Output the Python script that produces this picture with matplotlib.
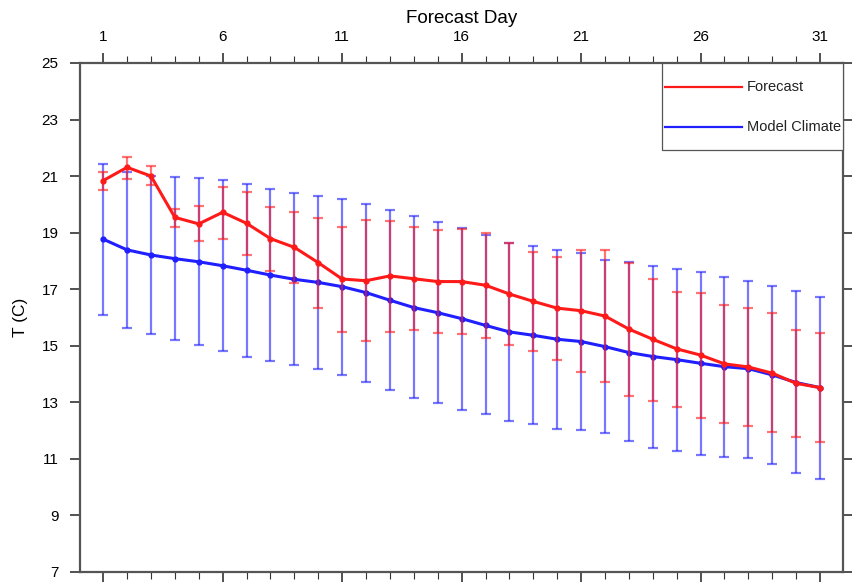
"""
Forecast vs model climate temperature, with spread bars
"""
import numpy as np
from matplotlib import pyplot as plt
from matplotlib.patches import Rectangle
from matplotlib.ticker import MultipleLocator

# Data
days = np.arange(1, 32)

fc_mean = [20.84, 21.31, 21.00, 19.54, 19.31, 19.72, 19.33, 18.79, 18.48, 17.94,
           17.36, 17.30, 17.47, 17.37, 17.27, 17.27, 17.14, 16.83, 16.57, 16.33,
           16.24, 16.05, 15.59, 15.23, 14.89, 14.67, 14.36, 14.25, 14.03, 13.67, 13.52]
fc_high = [21.13, 21.69, 21.36, 19.84, 19.93, 20.63, 20.44, 19.90, 19.74, 19.52,
           19.21, 19.45, 19.42, 19.21, 19.08, 19.13, 18.99, 18.64, 18.32, 18.15,
           18.39, 18.39, 17.94, 17.37, 16.90, 16.88, 16.45, 16.33, 16.16, 15.56, 15.46]
fc_low = [20.51, 20.90, 20.67, 19.21, 18.70, 18.79, 18.21, 17.66, 17.23, 16.34,
          15.49, 15.16, 15.49, 15.56, 15.44, 15.43, 15.28, 15.04, 14.81, 14.51,
          14.06, 13.71, 13.21, 13.05, 12.85, 12.44, 12.28, 12.15, 11.94, 11.76, 11.59]

clim_mean = [18.77, 18.39, 18.21, 18.08, 17.97, 17.83, 17.67, 17.50, 17.35, 17.24,
             17.09, 16.88, 16.61, 16.35, 16.17, 15.96, 15.72, 15.49, 15.37, 15.23,
             15.15, 14.97, 14.76, 14.62, 14.51, 14.38, 14.26, 14.19, 13.97, 13.70, 13.52]
clim_high = [21.44, 21.13, 21.00, 20.98, 20.93, 20.85, 20.71, 20.54, 20.39, 20.31,
             20.20, 20.01, 19.79, 19.59, 19.38, 19.17, 18.93, 18.65, 18.53, 18.39,
             18.29, 18.04, 17.95, 17.82, 17.73, 17.62, 17.43, 17.29, 17.13, 16.93, 16.74]
clim_low = [16.08, 15.62, 15.41, 15.21, 15.03, 14.83, 14.62, 14.46, 14.31, 14.18,
            13.98, 13.72, 13.43, 13.14, 12.97, 12.73, 12.58, 12.34, 12.25, 12.06,
            12.01, 11.92, 11.64, 11.40, 11.27, 11.12, 11.07, 11.03, 10.81, 10.50, 10.30]

major_days = [1, 6, 11, 16, 21, 26, 31]
y_ticks = np.arange(7, 26, 2)
legend_labels = ['Forecast', 'Model Climate']


def main():
    plt.rcParams['font.family'] = ['Liberation Sans', 'DejaVu Sans']

    fig = plt.figure(figsize=(8.52, 5.82), dpi=100)
    ax = fig.add_axes([0.0939, 0.0172, 0.8955, 0.8746])

    red = '#ff1a1a'
    blue = '#1f1fff'
    series = [
        (clim_mean, clim_low, clim_high, blue),
        (fc_mean, fc_low, fc_high, red),
    ]
    for mean, low, high, color in series:
        mean = np.array(mean)
        yerr = [mean - np.array(low), np.array(high) - mean]
        ax.errorbar(days, mean, yerr=yerr, fmt='none', ecolor=color, elinewidth=1.6,
                    capsize=3.5, capthick=1.6, alpha=0.6)
        ax.plot(days, mean, color=color, lw=2.2, marker='o', ms=3.5)

    ax.set_xlim(0.03, 31.96)
    ax.set_ylim(7, 25)
    ax.set_yticks(y_ticks)
    ax.set_xticks(major_days)
    ax.xaxis.set_minor_locator(MultipleLocator(1))

    ax.tick_params(axis='x', which='both', top=True, bottom=True, labeltop=True,
                   labelbottom=False, direction='out', labelsize=11, color='#333333')
    ax.tick_params(axis='x', which='major', length=7.5, width=1.2, pad=6)
    ax.tick_params(axis='x', which='minor', length=5, width=0.8)
    ax.tick_params(axis='y', which='major', left=True, right=True, direction='out',
                   length=7.5, width=1.2, labelsize=11, color='#333333', pad=8)
    ax.xaxis.set_label_position('top')
    ax.set_xlabel('Forecast Day', fontsize=13.5, labelpad=5)
    ax.set_ylabel('T (C)', fontsize=12.5, labelpad=10)

    for s in ax.spines.values():
        s.set_linewidth(1.6)
        s.set_color('#555555')

    # legend box in the top right corner, NCL style
    ax.add_patch(Rectangle((0.763, 0.829), 0.237, 0.171, transform=ax.transAxes,
                           facecolor='white', edgecolor='#555555', lw=0.9,
                           zorder=5, clip_on=False))
    for lab, color, yy in zip(legend_labels, [red, blue], [0.9528, 0.8743]):
        ax.plot([0.7667, 0.8676], [yy, yy], transform=ax.transAxes, color=color,
                lw=1.6, zorder=6)
        ax.text(0.8742, yy, lab, transform=ax.transAxes, fontsize=10.5,
                va='center', ha='left', color='#222222', zorder=6)

    plt.savefig('out.png', dpi=100)


if __name__ == '__main__':
    main()
